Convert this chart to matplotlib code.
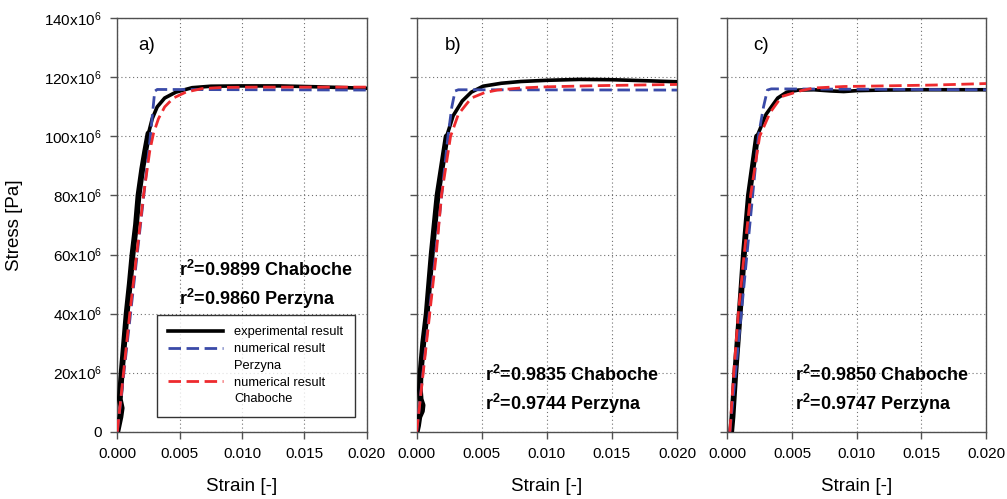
import numpy as np
import matplotlib.pyplot as plt
from matplotlib.lines import Line2D
from matplotlib.ticker import FuncFormatter

plt.rcParams['font.family'] = ['Liberation Sans', 'DejaVu Sans']
plt.rcParams['mathtext.fontset'] = 'custom'
plt.rcParams['mathtext.rm'] = 'Liberation Sans'
plt.rcParams['mathtext.it'] = 'Liberation Sans:italic'
plt.rcParams['mathtext.bf'] = 'Liberation Sans:bold'

# stress values are in MPa (x10^6 Pa), strain is dimensionless

# a)
exp_a_strain = [0, 0.0001, 0.00025, 0.00035, 0.0002, 0.00025, 0.00035, 0.00055, 0.00075, 0.001, 0.00122,
                0.0015, 0.0017, 0.002, 0.00224, 0.0025, 0.0028, 0.0032, 0.0038, 0.0047, 0.006, 0.0075,
                0.010, 0.013, 0.016, 0.020]
exp_a_stress = [0, 2, 5, 8, 11, 14, 20, 30, 40, 50, 60, 70, 80, 89, 95, 101, 106, 110, 113, 115, 116.5,
                117.0, 117.1, 117.1, 116.8, 116.3]
per_a_strain = [0, 0.0026, 0.0030, 0.0032, 0.020]
per_a_stress = [0, 98, 115.3, 115.9, 115.7]
cha_a_strain = [0, 0.0005, 0.001, 0.00155, 0.0021, 0.0026, 0.0029, 0.0033, 0.0038, 0.0045, 0.0055, 0.0068,
                0.0085, 0.011, 0.015, 0.020]
cha_a_stress = [0, 20, 40, 60, 80, 95, 101, 106, 110, 113, 115, 116.2, 116.6, 116.7, 116.7, 116.7]

# b)
exp_b_strain = [0, 0.0001, 0.0002, 0.0004, 0.00045, 0.0003, 0.00025, 0.0003, 0.0005, 0.00077, 0.00115,
                0.0016, 0.0023, 0.0028, 0.0035, 0.0042, 0.0051, 0.0065, 0.008, 0.010, 0.0125, 0.015,
                0.018, 0.020]
exp_b_stress = [0, 2, 5, 7, 9, 11, 14, 20, 30, 40, 60, 80, 100, 107, 112, 115, 117, 118, 118.6, 119.0,
                119.3, 119.2, 118.8, 118.5]
per_b_strain = [0, 0.0024, 0.0027, 0.00295, 0.0032, 0.020]
per_b_stress = [0, 100, 110, 115.4, 115.8, 115.7]
cha_b_strain = [0, 0.0005, 0.001, 0.0015, 0.0019, 0.0026, 0.0032, 0.0042, 0.0052, 0.0062, 0.008, 0.010,
                0.014, 0.020]
cha_b_stress = [0, 20, 40, 60, 80, 100, 107.5, 113, 114.8, 115.7, 116.4, 116.8, 117.2, 117.6]

# c)
exp_c_strain = [0.0003, 0.0004, 0.00062, 0.00096, 0.00128, 0.00167, 0.0023, 0.003, 0.0039, 0.0046, 0.0055,
                0.0067, 0.008, 0.009, 0.010, 0.012, 0.015, 0.020]
exp_c_stress = [0, 5, 20, 40, 60, 80, 100, 107.5, 113, 115, 115.7, 115.8, 115.4, 115.2, 115.5, 115.7,
                115.8, 115.8]
per_c_strain = [0.0002, 0.0024, 0.0028, 0.0031, 0.0034, 0.020]
per_c_stress = [0, 100, 110, 115.7, 116.1, 115.8]
cha_c_strain = [0.0002, 0.0005, 0.00085, 0.0013, 0.0018, 0.0025, 0.0033, 0.0042, 0.0057, 0.0067, 0.009,
                0.012, 0.016, 0.020]
cha_c_stress = [0, 20, 40, 60, 80, 100, 108, 113.5, 115.5, 116.4, 116.9, 117.1, 117.4, 117.9]

panel_labels = ['a)', 'b)', 'c)']
r2_texts = [['0.9899 Chaboche', '0.9860 Perzyna'],
            ['0.9835 Chaboche', '0.9744 Perzyna'],
            ['0.9850 Chaboche', '0.9747 Perzyna']]
legend_labels = ['experimental result', 'numerical result', 'Perzyna', 'numerical result', 'Chaboche']

panels = [
    (exp_a_strain, exp_a_stress, per_a_strain, per_a_stress, cha_a_strain, cha_a_stress),
    (exp_b_strain, exp_b_stress, per_b_strain, per_b_stress, cha_b_strain, cha_b_stress),
    (exp_c_strain, exp_c_stress, per_c_strain, per_c_stress, cha_c_strain, cha_c_stress),
]

W, H = 1007, 499
fig = plt.figure(figsize=(W / 100, H / 100), dpi=100)

# axes boxes in pixels: left, width
boxes = [(117.3, 249.4), (416.7, 260.3), (727.3, 258.7)]
label_pos = [(138, 45), (445, 45), (753, 45)]
r2_pos = [(179, 270), (485, 375), (795, 375)]

blue = '#3a4aa8'
red = '#ee2a2e'
spine_col = '#505050'


def stress_fmt(v, pos):
    m = int(round(v / 1e6))
    if m == 0:
        return '0'
    return '%dx10$^6$' % m


for i, (ex, ey, px, py, cx, cy) in enumerate(panels):
    left, width = boxes[i]
    ax = fig.add_axes([left / W, 67.3 / H, width / W, 413.4 / H])

    ex = np.array(ex)
    ey = np.array(ey) * 1e6
    ax.plot(ex, ey, color='black', lw=2.6, solid_joinstyle='round', solid_capstyle='round', zorder=3)
    # noisy rising part looks thicker in the original
    steep = ey <= 101e6
    ax.plot(ex[steep], ey[steep], color='black', lw=4.2, solid_joinstyle='round',
            solid_capstyle='round', zorder=3)
    ax.plot(px, np.array(py) * 1e6, color=blue, lw=2, dashes=(4.5, 2), zorder=4)
    ax.plot(cx, np.array(cy) * 1e6, color=red, lw=2, dashes=(4.5, 2), zorder=5)

    ax.set_xlim(0, 0.02)
    ax.set_ylim(0, 140e6)
    ax.set_xticks(np.arange(0, 0.0201, 0.005))
    ax.xaxis.set_major_formatter(FuncFormatter(lambda v, p: '%.3f' % v))
    ax.set_yticks(np.arange(0, 140.1e6, 20e6))
    ax.yaxis.set_major_formatter(FuncFormatter(stress_fmt))

    ax.grid(True, color='#707070', lw=0.8, linestyle=(0, (1, 2.5)))
    for s in ax.spines.values():
        s.set_color(spine_col)
        s.set_linewidth(1)
    ax.tick_params(direction='out', length=5, width=1, color=spine_col, labelsize=11, pad=6)
    if i > 0:
        ax.tick_params(labelleft=False)
    ax.set_xlabel('Strain [-]', fontsize=13.5, labelpad=12)

    fig.text(label_pos[i][0] / W, 1 - label_pos[i][1] / H, panel_labels[i], fontsize=13.5,
             va='center', ha='left')
    for j, t in enumerate(r2_texts[i]):
        fig.text(r2_pos[i][0] / W, 1 - (r2_pos[i][1] + 29 * j) / H, r'$\mathbf{r^2}$=' + t,
                 fontsize=13, fontweight='bold', va='center', ha='left')

    if i == 0:
        handles = [Line2D([], [], color='black', lw=2.6),
                   Line2D([], [], color=blue, lw=2, dashes=(4.5, 2)),
                   Line2D([], [], color='none'),
                   Line2D([], [], color=red, lw=2, dashes=(4.5, 2)),
                   Line2D([], [], color='none')]
        leg = ax.legend(handles, legend_labels, loc='lower left', bbox_to_anchor=(0.158, 0.036),
                        fontsize=9.3, frameon=True, fancybox=False, handlelength=4.2,
                        handletextpad=0.9, labelspacing=0.36, borderpad=0.9, borderaxespad=0)
        leg.get_frame().set_edgecolor('black')
        leg.get_frame().set_linewidth(1)
        leg.set_zorder(6)

fig.text(15 / W, 1 - 225 / H, 'Stress [Pa]', rotation=90, fontsize=13.5, va='center', ha='center')

plt.savefig('out.png', dpi=100)
